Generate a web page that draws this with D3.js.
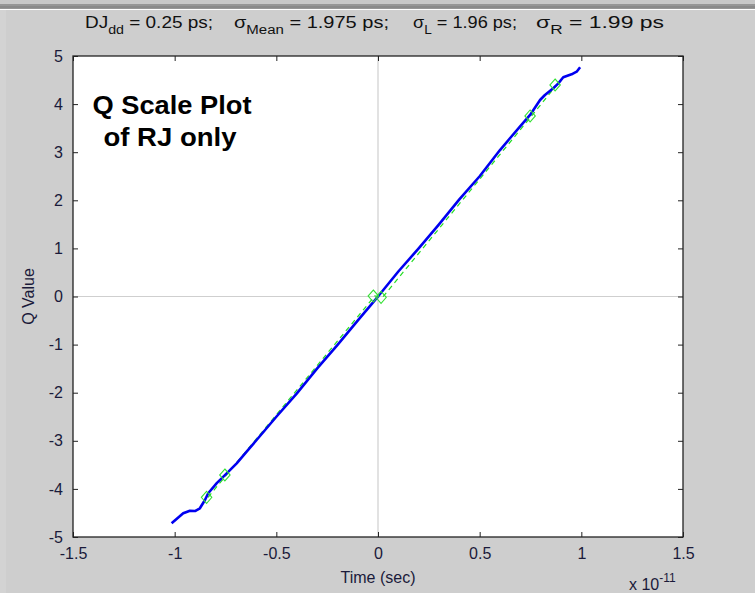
<!DOCTYPE html>
<html><head><meta charset="utf-8">
<script src="https://cdn.jsdelivr.net/npm/d3@7"></script>
<style>
html,body{margin:0;padding:0;background:#cecece;}
svg{display:block;}
text{font-family:"Liberation Sans",Arial,sans-serif;}
</style></head>
<body>
<svg id="chart" width="755" height="593"></svg>
<script>
// ---- data ----
const xTicks = [-1.5, -1, -0.5, 0, 0.5, 1, 1.5];
const yTicks = [-5, -4, -3, -2, -1, 0, 1, 2, 3, 4, 5];
const blueX = [-1.015,-0.958,-0.925,-0.900,-0.876,-0.851,-0.835,-0.793,-0.744,-0.695,-0.646,-0.597,-0.5,-0.4,-0.3,-0.2,-0.1,-0.02,0,0.1,0.2,0.3,0.4,0.5,0.600,0.649,0.698,0.748,0.797,0.821,0.862,0.887,0.911,0.928,0.952,0.977,0.994];
const blueQ = [-4.715,-4.507,-4.453,-4.46,-4.403,-4.231,-4.09,-3.88,-3.676,-3.468,-3.227,-2.983,-2.5,-2.02,-1.5,-1.01,-0.5,-0.1,0,0.52,1.0,1.5,2.02,2.5,3.045,3.29,3.53,3.774,4.085,4.189,4.33,4.43,4.557,4.584,4.619,4.674,4.765];
const greenX = [-0.843,-0.753,-0.023,0.015,0.748,0.871];
const greenQ = [-4.175,-3.711,0.01,-0.017,3.753,4.397];
const titleParts = [
  {main:"DJ", sub:"dd", rest:" = 0.25 ps;"},
  {main:"\u03C3", sub:"Mean", rest:" = 1.975 ps;"},
  {main:"\u03C3", sub:"L", rest:" = 1.96 ps;"},
  {main:"\u03C3", sub:"R", rest:" = 1.99 ps"}
];
const titleStarts = [85, 234, 413, 536];
const titleWidths = [128, 155, 104, 128];

const svg = d3.select("#chart");
const W = 755, H = 593;
const L = 73, R = 683, T = 56, B = 537;

// window frame
svg.append("rect").attr("x",0).attr("y",0).attr("width",W).attr("height",H).attr("fill","#cecece");
svg.append("rect").attr("x",0).attr("y",0).attr("width",W).attr("height",4).attr("fill","#c8c8c8");
svg.append("rect").attr("x",0).attr("y",4).attr("width",W).attr("height",5).attr("fill","#969696");
svg.append("rect").attr("x",0).attr("y",6).attr("width",W).attr("height",2).attr("fill","#8a8a8a");
svg.append("rect").attr("x",0).attr("y",9).attr("width",W).attr("height",1).attr("fill","#ffffff");
svg.append("rect").attr("x",0).attr("y",10).attr("width",6).attr("height",H-10).attr("fill","#d3d3d3");

const x = d3.scaleLinear().domain([-1.5,1.5]).range([L,R]);
const y = d3.scaleLinear().domain([-5,5]).range([B,T]);

// plot area
svg.append("rect").attr("x",L).attr("y",T).attr("width",R-L).attr("height",B-T).attr("fill","#ffffff");

// zero lines
svg.append("line").attr("x1",x(0)).attr("x2",x(0)).attr("y1",T).attr("y2",B).attr("stroke","#cfcfcf").attr("stroke-width",1.2);
svg.append("line").attr("x1",L).attr("x2",R).attr("y1",y(0)).attr("y2",y(0)).attr("stroke","#cfcfcf").attr("stroke-width",1.2);

// axes
const fmt = d => (d+"");
const axB = d3.axisBottom(x).tickValues(xTicks).tickSizeInner(-5).tickSizeOuter(0).tickPadding(11).tickFormat(fmt);
const axT = d3.axisTop(x).tickValues(xTicks).tickSizeInner(-5).tickSizeOuter(0).tickFormat("");
const axL = d3.axisLeft(y).tickValues(yTicks).tickSizeInner(-5).tickSizeOuter(0).tickPadding(10).tickFormat(fmt);
const axR = d3.axisRight(y).tickValues(yTicks).tickSizeInner(-5).tickSizeOuter(0).tickFormat("");

function style(g){
  g.select(".domain").remove();
  g.selectAll(".tick line").attr("stroke","#222").attr("stroke-width",1);
  g.selectAll("text").attr("fill","#1a1a3a").style("font-size","16px").style("font-family","'Liberation Sans',Arial,sans-serif");
}
svg.append("g").attr("transform",`translate(0,${B})`).call(axB).call(style);
svg.append("g").attr("transform",`translate(0,${T})`).call(axT).call(style);
svg.append("g").attr("transform",`translate(${L},0)`).call(axL).call(style);
svg.append("g").attr("transform",`translate(${R},0)`).call(axR).call(style);

// data
const gData = svg.append("g");
const lineGen = d3.line().x(d=>x(d[0])).y(d=>y(d[1]));
const greenPts = greenX.map((v,i)=>[v,greenQ[i]]);
const bluePts = blueX.map((v,i)=>[v,blueQ[i]]);

gData.append("path").datum(greenPts).attr("d",lineGen).attr("fill","none")
  .attr("stroke","#22dd22").attr("stroke-width",1.2).attr("stroke-dasharray","5,4")
  .attr("transform","translate(1.5,0)");
gData.append("path").datum(bluePts).attr("d",lineGen).attr("fill","none")
  .attr("stroke","#0000f0").attr("stroke-width",2.6).attr("stroke-linejoin","round");
gData.selectAll(".dia").data(greenPts).enter().append("path")
  .attr("d", d3.symbol().type(d3.symbolDiamond2).size(70))
  .attr("transform", d=>`translate(${x(d[0])},${y(d[1])}) scale(1,1.15)`)
  .attr("fill","none").attr("stroke","#33e033").attr("stroke-width",1);

// box
svg.append("rect").attr("x",L).attr("y",T).attr("width",R-L).attr("height",B-T)
  .attr("fill","none").attr("stroke","#222").attr("stroke-width",1.3);

// annotation
svg.append("text").attr("x",172).attr("y",114).attr("text-anchor","middle")
  .attr("textLength",159).attr("lengthAdjust","spacingAndGlyphs")
  .style("font-weight","bold").style("font-size","25px").attr("fill","#000").text("Q Scale Plot");
svg.append("text").attr("x",170).attr("y",146).attr("text-anchor","middle")
  .attr("textLength",133).attr("lengthAdjust","spacingAndGlyphs")
  .style("font-weight","bold").style("font-size","25px").attr("fill","#000").text("of RJ only");

// title
titleParts.forEach((p,i)=>{
  const t = svg.append("text").attr("x",titleStarts[i]).attr("y",28)
    .style("font-size","16px").attr("fill","#111")
    .attr("textLength",titleWidths[i]).attr("lengthAdjust","spacingAndGlyphs");
  t.append("tspan").text(p.main);
  t.append("tspan").attr("dy",6).style("font-size","12px").text(p.sub);
  t.append("tspan").attr("dy",-6).text(p.rest);
});

// axis labels
svg.append("text").attr("x",x(0)).attr("y",583).attr("text-anchor","middle")
  .style("font-size","16px").attr("fill","#1a1a3a").text("Time (sec)");
svg.append("text").attr("transform",`translate(34,${y(0)}) rotate(-90)`).attr("text-anchor","middle")
  .style("font-size","16px").attr("fill","#1a1a3a").text("Q Value");
const ex = svg.append("text").attr("x",629).attr("y",590).style("font-size","16px").attr("fill","#1a1a3a");
ex.append("tspan").text("x 10");
ex.append("tspan").attr("dy",-8).style("font-size","12px").text("-11");
</script>
</body></html>
